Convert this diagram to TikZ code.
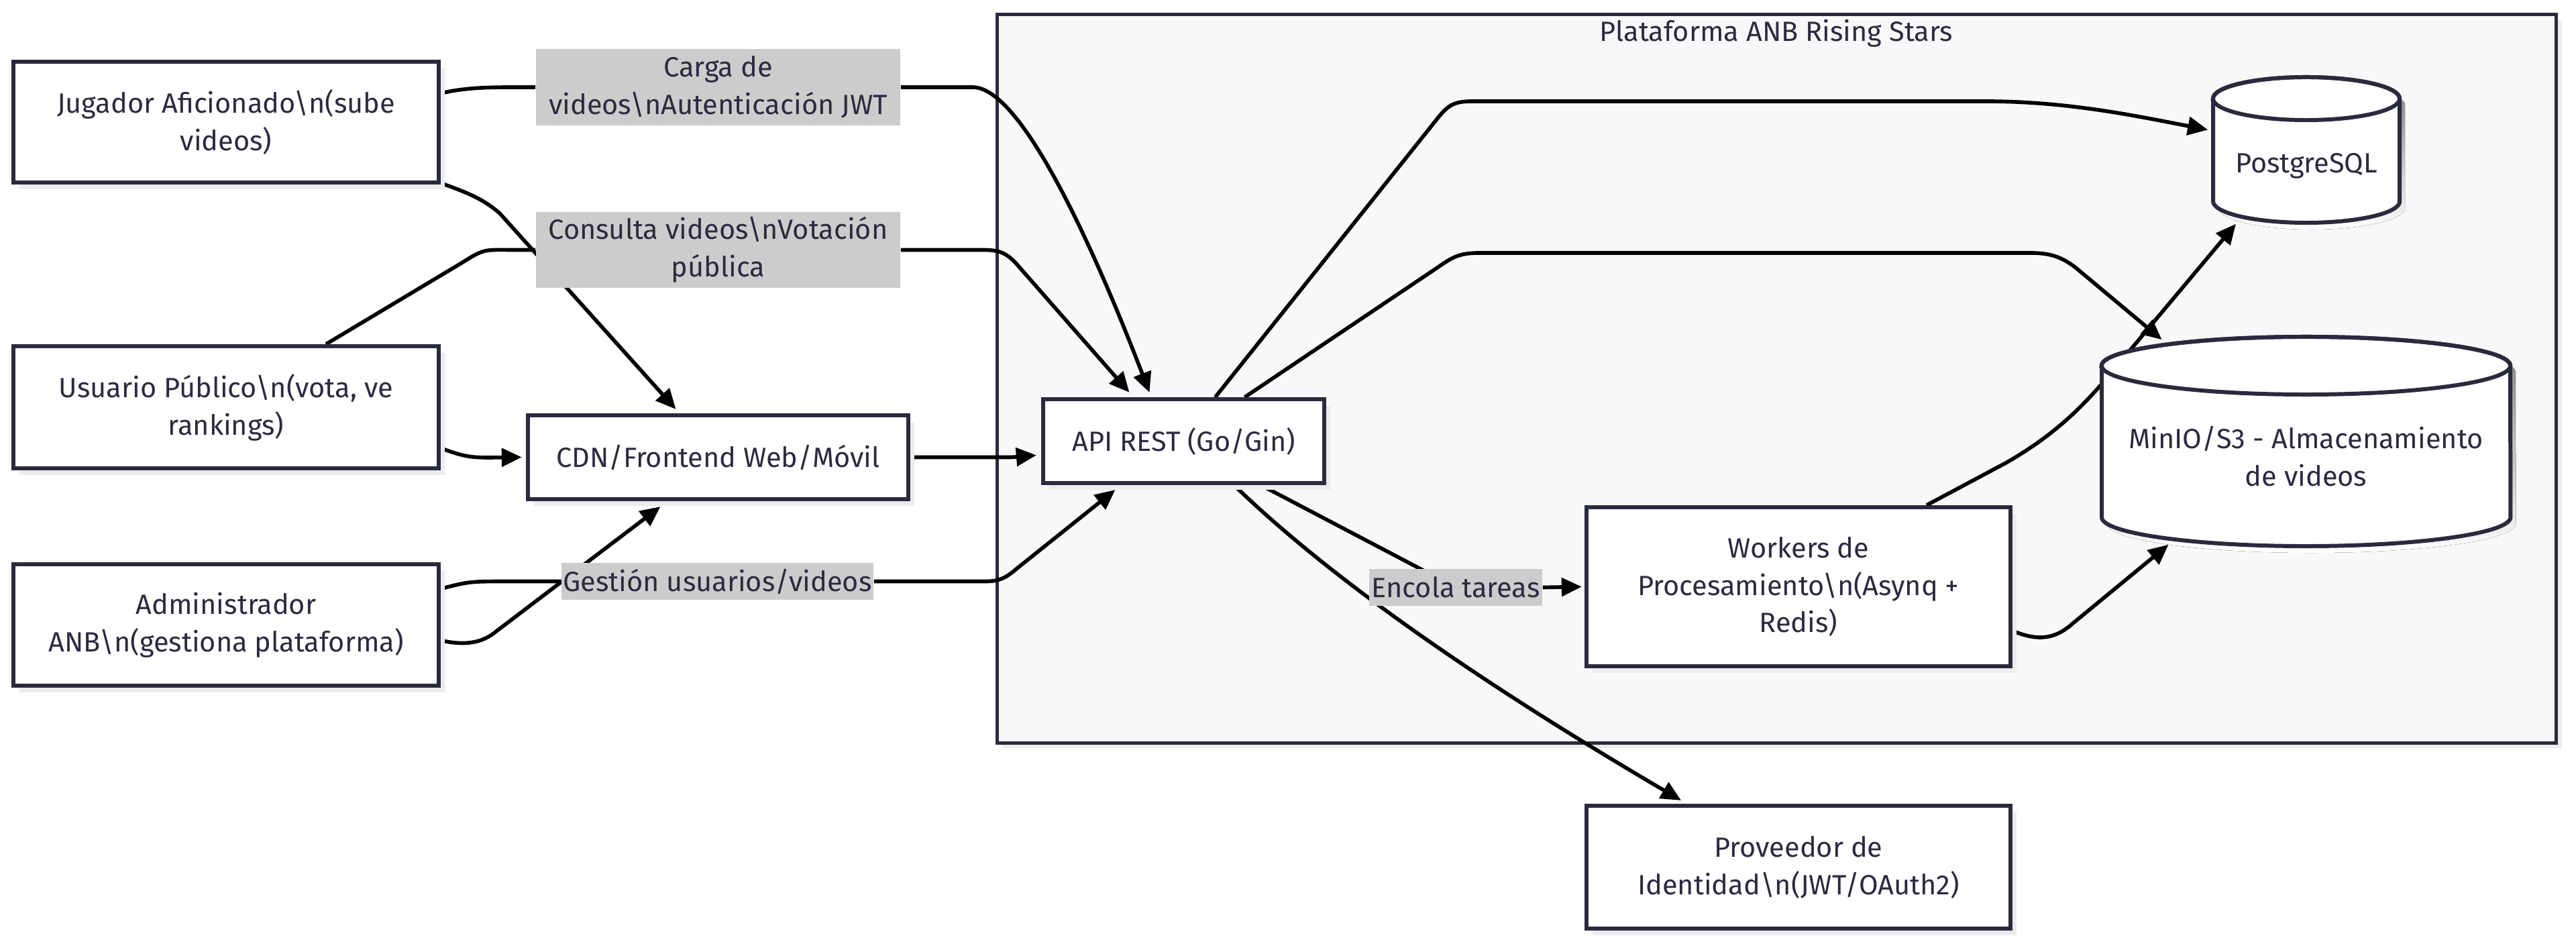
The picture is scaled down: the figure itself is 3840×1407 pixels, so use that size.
\documentclass[tikz,border=0pt]{standalone}
\usepackage{fontspec}
\setmainfont{Fira Sans}
\usetikzlibrary{arrows.meta,shadows,calc}
\pgfdeclarelayer{back}
\pgfdeclarelayer{wires}
\pgfsetlayers{back,wires,main}
\definecolor{ink}{HTML}{2A2A3E}
\definecolor{txt}{HTML}{2B2A40}
\definecolor{lblgray}{HTML}{CCCCCC}
\definecolor{panel}{HTML}{F8F8FA}
\definecolor{shade}{HTML}{ECECEE}
\begin{document}
\begin{tikzpicture}[x=0.01cm, y=-0.01cm,
  every node/.style={text=txt, font=\fontsize{11.8}{15.9}\selectfont, align=center, inner sep=0pt},
  box/.style={draw=ink, line width=1.7pt, fill=white, rectangle,
    drop shadow={shadow xshift=0.09cm, shadow yshift=-0.1cm, fill=shade, opacity=1}},
  lbl/.style={fill=lblgray, rectangle},
  conn/.style={draw=black, line width=1.6pt, line join=round},
  connarr/.style={conn, -{Triangle[length=0.3cm,width=0.27cm]}},
  cyl/.style={draw=ink, line width=1.7pt, fill=white}]
\useasboundingbox (0,0) rectangle (3840,1407);

% page and platform frame
\begin{pgfonlayer}{back}
\fill[white] (0,0) rectangle (3840,1407);
\node[draw=ink, line width=1.5pt, fill=panel, rectangle, minimum width=23.23cm, minimum height=10.85cm,
  drop shadow={shadow xshift=0.08cm, shadow yshift=-0.08cm, fill=shade, opacity=1}]
  (plat) at (2648.5,564.5) {};
\end{pgfonlayer}
\node (platTitle) at (2648,50) {Plataforma ANB Rising Stars};

% actors and services
\node[box, minimum width=6.34cm, minimum height=1.80cm] (jug) at (337,182)
  {Jugador Aficionado\textbackslash n(sube\\videos)};
\node[box, minimum width=6.34cm, minimum height=1.82cm] (usr) at (337,607)
  {Usuario Público\textbackslash n(vota, ve\\rankings)};
\node[box, minimum width=6.34cm, minimum height=1.81cm] (adm) at (337,931.5)
  {Administrador\\ANB\textbackslash n(gestiona plataforma)};
\node[box, minimum width=5.67cm, minimum height=1.25cm] (cdn) at (1070.5,681.5)
  {CDN/Frontend Web/Móvil};
\node[box, minimum width=4.19cm, minimum height=1.25cm] (api) at (1764.5,657.5)
  {API REST (Go/Gin)};
\node[box, minimum width=6.32cm, minimum height=2.37cm] (wrk) at (2681,874.5)
  {Workers de\\Procesamiento\textbackslash n(Asynq +\\Redis)};
\node[box, minimum width=6.32cm, minimum height=1.83cm] (idp) at (2681,1292.5)
  {Proveedor de\\Identidad\textbackslash n(JWT/OAuth2)};

% PostgreSQL cylinder
\fill[shade] (3307,157) -- (3307,310) arc[start angle=180,end angle=360,x radius=1.39cm,y radius=0.32cm]
  -- (3585,157) arc[start angle=0,end angle=180,x radius=1.39cm,y radius=0.32cm] -- cycle;
\path[cyl] (3299,147) -- (3299,300) arc[start angle=180,end angle=360,x radius=1.39cm,y radius=0.32cm]
  -- (3577,147) arc[start angle=0,end angle=180,x radius=1.39cm,y radius=0.32cm] -- cycle;
\draw[draw=ink, line width=1.7pt] (3438,147) ellipse[x radius=1.39cm, y radius=0.32cm];
\node[minimum width=2.78cm, minimum height=2.17cm] (pg) at (3438,223.5) {};
\node (pgText) at (3438,247) {PostgreSQL};

% MinIO cylinder
\fill[shade] (3141,555) -- (3141,781) arc[start angle=180,end angle=360,x radius=3.045cm,y radius=0.43cm]
  -- (3750,555) arc[start angle=0,end angle=180,x radius=3.045cm,y radius=0.43cm] -- cycle;
\path[cyl] (3133,545) -- (3133,771) arc[start angle=180,end angle=360,x radius=3.045cm,y radius=0.43cm]
  -- (3742,545) arc[start angle=0,end angle=180,x radius=3.045cm,y radius=0.43cm] -- cycle;
\draw[draw=ink, line width=1.7pt] (3437.5,545) ellipse[x radius=3.045cm, y radius=0.43cm];
\node[minimum width=6.09cm, minimum height=3.12cm] (minio) at (3437.5,658) {};
\node (minioText) at (3437.5,680) {MinIO/S3 - Almacenamiento\\de videos};

% edge labels
\node[lbl, minimum width=5.43cm, minimum height=1.14cm] (carga) at (1070.5,130)
  {Carga de\\videos\textbackslash nAutenticación JWT};
\node[lbl, minimum width=5.43cm, minimum height=1.13cm] (consulta) at (1070.5,372.5)
  {Consulta videos\textbackslash nVotación\\pública};
\node[lbl, minimum width=4.65cm, minimum height=0.55cm] (gestion) at (1069.5,866.5)
  {Gestión usuarios/videos};
\node[lbl, minimum width=2.58cm, minimum height=0.55cm] (encola) at (2170,875.5)
  {Encola tareas};

% connectors
\begin{pgfonlayer}{wires}
% Jugador -> API (Carga de videos)
\draw[conn] ($(jug.east)+(0,-43)$) .. controls (700,129) and (740,130) .. (carga.west);
\draw[connarr] (carga.east) -- (1450,130) .. controls (1530,130) and (1650,420) .. ($(api.north)+(-51,-7)$);
% Jugador -> CDN
\draw[connarr] ($(jug.south east)+(0,-2)$) .. controls (700,288) and (722,298) .. (745,318)
  -- ($(cdn.north)+(-63,-6)$);
% Usuario -> API (Consulta videos)
\draw[conn] ($(usr.north)+(149,0)$) -- (688,392) .. controls (720,372) .. (760,372.5) -- (consulta.west);
\draw[connarr] (consulta.east) -- (1465,372.5) .. controls (1490,372.5) and (1500,377) .. (1515,393)
  -- ($(api.north)+(-81,-7)$);
% Usuario -> CDN
\draw[connarr] ($(usr.east)+(0,61)$) .. controls (690,680) and (700,682) .. (730,682) -- ($(cdn.west)+(-6,0)$);
% CDN -> API
\draw[connarr] (cdn.east) -- (1490,681.5) .. controls (1510,681.5) .. ($(api.west)+(-7,21)$);
% Administrador -> API (Gestión)
\draw[conn] ($(adm.east)+(0,-54)$) .. controls (700,866.5) .. (760,866.5) -- (gestion.west);
\draw[connarr] (gestion.east) -- (1470,866.5) .. controls (1492,866.5) and (1502,859) .. (1515,848)
  -- ($(api.south)+(-102,7)$);
% Administrador -> CDN
\draw[connarr] ($(adm.east)+(0,23)$) .. controls (690,962) and (718,960) .. (741,940) -- ($(cdn.south)+(-86,8)$);
% API -> PostgreSQL
\draw[connarr] ($(api.north)+(47,0)$) -- (2140,180) .. controls (2158,157) and (2166,151) .. (2195,151)
  -- (2960,151) .. controls (3080,151) and (3180,172) .. ($(pg.west)+(-7,-30)$);
% API -> MinIO
\draw[connarr] ($(api.north)+(91,0)$) -- (2138,402) .. controls (2163,385) and (2172,377) .. (2205,377)
  -- (3027,377) .. controls (3060,377) and (3075,385) .. (3093,398) -- ($(minio.north)+(-215,5)$);
% API -> Workers (Encola tareas)
\draw[conn] ($(api.south)+(115,0)$) -- (encola.center);
\draw[connarr] (encola.east) -- ($(wrk.west)+(-4,0)$);
% API -> Proveedor de Identidad
\draw[connarr] ($(api.south)+(75,0)$) .. controls (1960,840) and (2160,990) .. ($(idp.north)+(-175,-5)$);
% Workers -> PostgreSQL
\draw[connarr] ($(wrk.north)+(191,0)$) -- (2990,690) .. controls (3060,650) and (3100,610) .. (3135,570)
  -- ($(pg.south)+(-105,1)$);
% Workers -> MinIO
\draw[connarr] ($(wrk.east)+(0,66)$) .. controls (3030,952) and (3058,958) .. (3090,929)
  -- ($(minio.south)+(-205,-3)$);
\end{pgfonlayer}
\end{tikzpicture}
\end{document}
